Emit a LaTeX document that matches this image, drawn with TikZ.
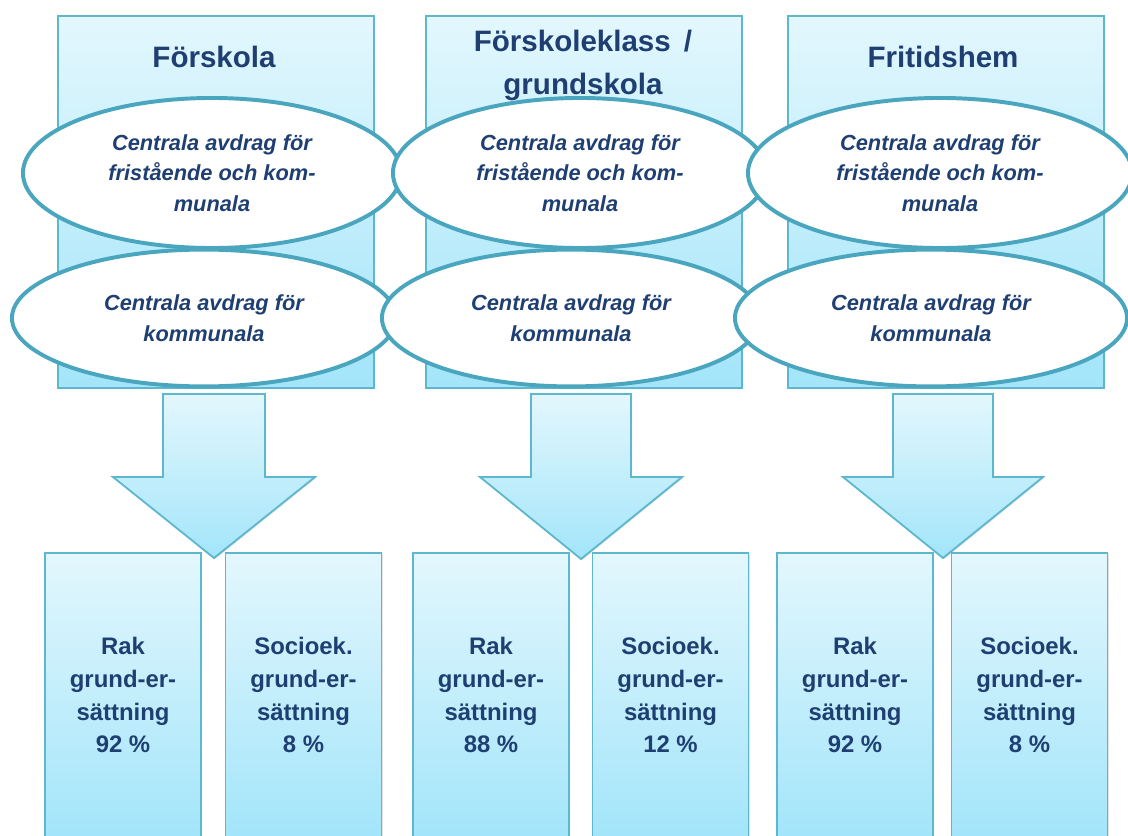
\documentclass[tikz,border=0pt]{standalone}
\usepackage{fontspec}
\setmainfont{Liberation Sans}
\usetikzlibrary{shapes.geometric,shadows}

\definecolor{boxtop}{HTML}{E3F7FD}
\definecolor{boxbot}{HTML}{A3E5FA}
\definecolor{boxline}{HTML}{5DB7CD}
\definecolor{ringline}{HTML}{4AA6BE}
\definecolor{txtblue}{HTML}{1F3F73}

\tikzset{
  paleshade/.style={draw=boxline, line width=1.3pt, top color=boxtop, bottom color=boxbot,
    drop shadow={opacity=.22, shadow xshift=.8pt, shadow yshift=-.8pt}},
  formbox/.style={paleshade, rectangle, minimum width=7.9cm, minimum height=9.3cm, inner sep=0pt},
  formtitle/.style={text=txtblue, align=center, font=\fontsize{21}{30.5}\selectfont\bfseries},
  deduct/.style={ellipse, draw=ringline, line width=2.8pt, fill=white, inner sep=0pt,
    text=txtblue, align=center, font=\fontsize{15.5}{21.8}\selectfont\bfseries\itshape},
  upperring/.style={deduct, minimum height=3.75cm},
  lowerring/.style={deduct, minimum height=3.42cm},
  downarrow/.style={paleshade},
  sharebox/.style={paleshade, rectangle, minimum width=3.9cm, minimum height=7.1cm, inner sep=0pt,
    text=txtblue, align=center, font=\fontsize{17}{23.4}\selectfont\bfseries}
}

\begin{document}
\begin{tikzpicture}[x=0.025cm, y=-0.025cm]
  \useasboundingbox (0,0) rectangle (1128,835);
  \clip (0,0) rectangle (1128,835);

  % school forms
  \node[formbox] (forskola) at (216,202) {};
  \node[formbox] (grundskola) at (584,202) {};
  \node[formbox] (fritids) at (946,202) {};

  \node[formtitle] (t1) at (214,57) {Förskola};
  \node[formtitle] (t2) at (583,65) {Förskoleklass \,/\\grundskola};
  \node[formtitle] (t3) at (943,57) {Fritidshem};

  % central deductions
  \node[upperring, minimum width=9.45cm] (u1) at (212,173) {Centrala avdrag för\\fristående och kom-\\munala};
  \node[upperring, minimum width=9.35cm] (u2) at (580,173) {Centrala avdrag för\\fristående och kom-\\munala};
  \node[upperring, minimum width=9.6cm] (u3) at (940,173) {Centrala avdrag för\\fristående och kom-\\munala};

  \node[lowerring, minimum width=9.6cm] (l1) at (204,318) {Centrala avdrag för\\kommunala};
  \node[lowerring, minimum width=9.45cm] (l2) at (571,318) {Centrala avdrag för\\kommunala};
  \node[lowerring, minimum width=9.8cm] (l3) at (931,318) {Centrala avdrag för\\kommunala};

  % grants
  \node[sharebox] (rak1) at (123,695) {Rak\\grund-er-\\sättning\\92 \%};
  \node[sharebox] (soc1) at (303.5,695) {Socioek.\\grund-er-\\sättning\\8 \%};
  \node[sharebox] (rak2) at (491,695) {Rak\\grund-er-\\sättning\\88 \%};
  \node[sharebox] (soc2) at (670.5,695) {Socioek.\\grund-er-\\sättning\\12 \%};
  \node[sharebox] (rak3) at (855,695) {Rak\\grund-er-\\sättning\\92 \%};
  \node[sharebox] (soc3) at (1029.5,695) {Socioek.\\grund-er-\\sättning\\8 \%};

  % arrows
  \coordinate (a1) at (214,394);
  \coordinate (a2) at (581,394);
  \coordinate (a3) at (943,394);
  \path[downarrow] (a1) ++(-51,0) -- ++(0,83) -- ++(-50,0) -- ++(101,81)
    -- ++(101,-81) -- ++(-50,0) -- ++(0,-83) -- cycle;
  \path[downarrow] (a2) ++(-50,0) -- ++(0,83) -- ++(-51,0) -- ++(101,82)
    -- ++(101,-82) -- ++(-51,0) -- ++(0,-83) -- cycle;
  \path[downarrow] (a3) ++(-50,0) -- ++(0,83) -- ++(-50,0) -- ++(100,81)
    -- ++(100,-81) -- ++(-50,0) -- ++(0,-83) -- cycle;
\end{tikzpicture}
\end{document}
